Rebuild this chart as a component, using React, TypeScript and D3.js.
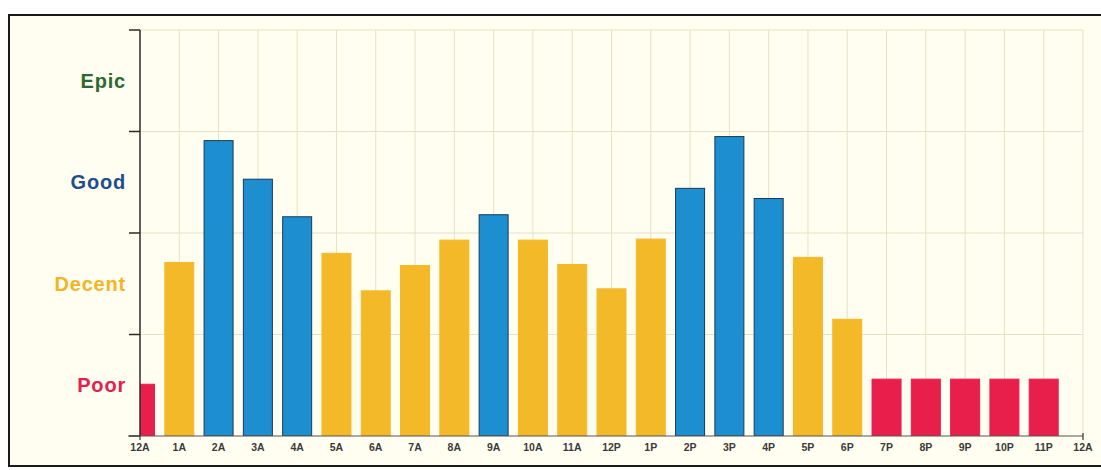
import { useEffect, useRef } from 'react';
import * as d3 from 'd3';

// hour labels on the x axis (ticks), last one closes the day
const hours = ['12A', '1A', '2A', '3A', '4A', '5A', '6A', '7A', '8A', '9A', '10A', '11A',
  '12P', '1P', '2P', '3P', '4P', '5P', '6P', '7P', '8P', '9P', '10P', '11P'];
const endLabel = '12A';

// rating per hour (0 = bottom, 1 band per quality level)
const ratings = [0.51, 1.71, 2.91, 2.53, 2.16, 1.8, 1.43, 1.68, 1.93, 2.18, 1.93, 1.69,
  1.45, 1.94, 2.44, 2.95, 2.34, 1.76, 1.15, 0.56, 0.56, 0.56, 0.56, 0.56];

const levels = ['Poor', 'Decent', 'Good', 'Epic'];
const levelColors = ['#e4204c', '#f2b526', '#1f4e8c', '#2b6a2e'];
const barColors = ['#e81f4b', '#f4b929', '#1d8fd0'];
const barStrokes = ['#e81f4b', '#f4b929', '#173a58'];

export default function App() {
  const ref = useRef<SVGSVGElement>(null);

  useEffect(() => {
    if (!ref.current) return;
    const svg = d3.select(ref.current);
    svg.selectAll('*').remove();

    const W = 1101;
    const H = 470;
    const left = 140, right = 1083, top = 30, bottom = 436;

    // page + frame (right side runs off the page)
    svg.append('rect').attr('width', W).attr('height', H).attr('fill', '#ffffff');
    svg.append('rect').attr('x', 9).attr('y', 15).attr('width', W + 20).attr('height', 451)
      .attr('fill', '#fffef1').attr('stroke', '#1a1a1a').attr('stroke-width', 2);

    const x = d3.scaleLinear().domain([0, hours.length]).range([left, right]);
    const y = d3.scaleLinear().domain([0, levels.length]).range([bottom, top]);
    const band = d3.scaleThreshold<number, number>().domain([1, 2]).range([0, 1, 2]);

    // grid
    const grid = svg.append('g').attr('stroke', '#e6e1c4').attr('stroke-width', 1);
    d3.range(1, hours.length + 1).forEach(i => {
      grid.append('line').attr('x1', x(i)).attr('x2', x(i)).attr('y1', top).attr('y2', bottom);
    });
    d3.range(1, levels.length + 1).forEach(i => {
      grid.append('line').attr('x1', left).attr('x2', right).attr('y1', y(i)).attr('y2', y(i));
    });

    // bars centered on the hour ticks, clipped to the plot area
    svg.append('clipPath').attr('id', 'plot')
      .append('rect').attr('x', left).attr('y', top).attr('width', right - left).attr('height', bottom - top);
    const barW = 30;
    svg.append('g').attr('clip-path', 'url(#plot)')
      .selectAll('rect')
      .data(ratings)
      .join('rect')
      .attr('x', (_, i) => x(i) - barW / 2 + 0.5)
      .attr('y', d => y(d))
      .attr('width', barW - 1)
      .attr('height', d => bottom - y(d))
      .attr('fill', d => barColors[band(d)])
      .attr('stroke', d => barStrokes[band(d)])
      .attr('stroke-width', 1);

    // y axis
    const yAxis = svg.append('g').attr('stroke', '#2a2a2a');
    yAxis.append('line').attr('x1', left).attr('x2', left).attr('y1', top).attr('y2', bottom).attr('stroke-width', 1.5);
    d3.range(0, levels.length + 1).forEach(i => {
      yAxis.append('line').attr('x1', left - 11).attr('x2', left).attr('y1', y(i)).attr('y2', y(i)).attr('stroke-width', 1.5);
    });
    svg.append('g').selectAll('text')
      .data(levels)
      .join('text')
      .attr('x', left - 14)
      .attr('y', (_, i) => y(i + 0.5))
      .attr('dy', '0.35em')
      .attr('text-anchor', 'end')
      .attr('font-family', 'Liberation Sans, Arial, sans-serif')
      .attr('font-weight', 'bold')
      .attr('font-size', 20)
      .attr('letter-spacing', 0.8)
      .attr('fill', (_, i) => levelColors[i])
      .text(d => d);

    // x axis
    svg.append('line').attr('x1', left - 12).attr('x2', right).attr('y1', bottom).attr('y2', bottom)
      .attr('stroke', '#555').attr('stroke-width', 1.2);
    svg.append('line').attr('x1', right).attr('x2', right).attr('y1', bottom - 3).attr('y2', bottom + 4)
      .attr('stroke', '#333').attr('stroke-width', 1.2);
    svg.append('line').attr('x1', left).attr('x2', left).attr('y1', bottom).attr('y2', bottom + 4)
      .attr('stroke', '#333').attr('stroke-width', 1.2);
    svg.append('g').selectAll('text')
      .data([...hours, endLabel])
      .join('text')
      .attr('x', (_, i) => x(i))
      .attr('y', bottom + 15)
      .attr('text-anchor', 'middle')
      .attr('font-family', 'Liberation Sans Narrow, Arial Narrow, Liberation Sans, sans-serif')
      .attr('font-weight', 'bold')
      .attr('font-size', 10.5)
      .attr('fill', '#3a3a3a')
      .text(d => d);
  }, []);

  return (
    <div style={{ position: 'absolute', left: 0, top: 0 }}>
      <svg ref={ref} width={1101} height={470} style={{ display: 'block' }} />
    </div>
  );
}
